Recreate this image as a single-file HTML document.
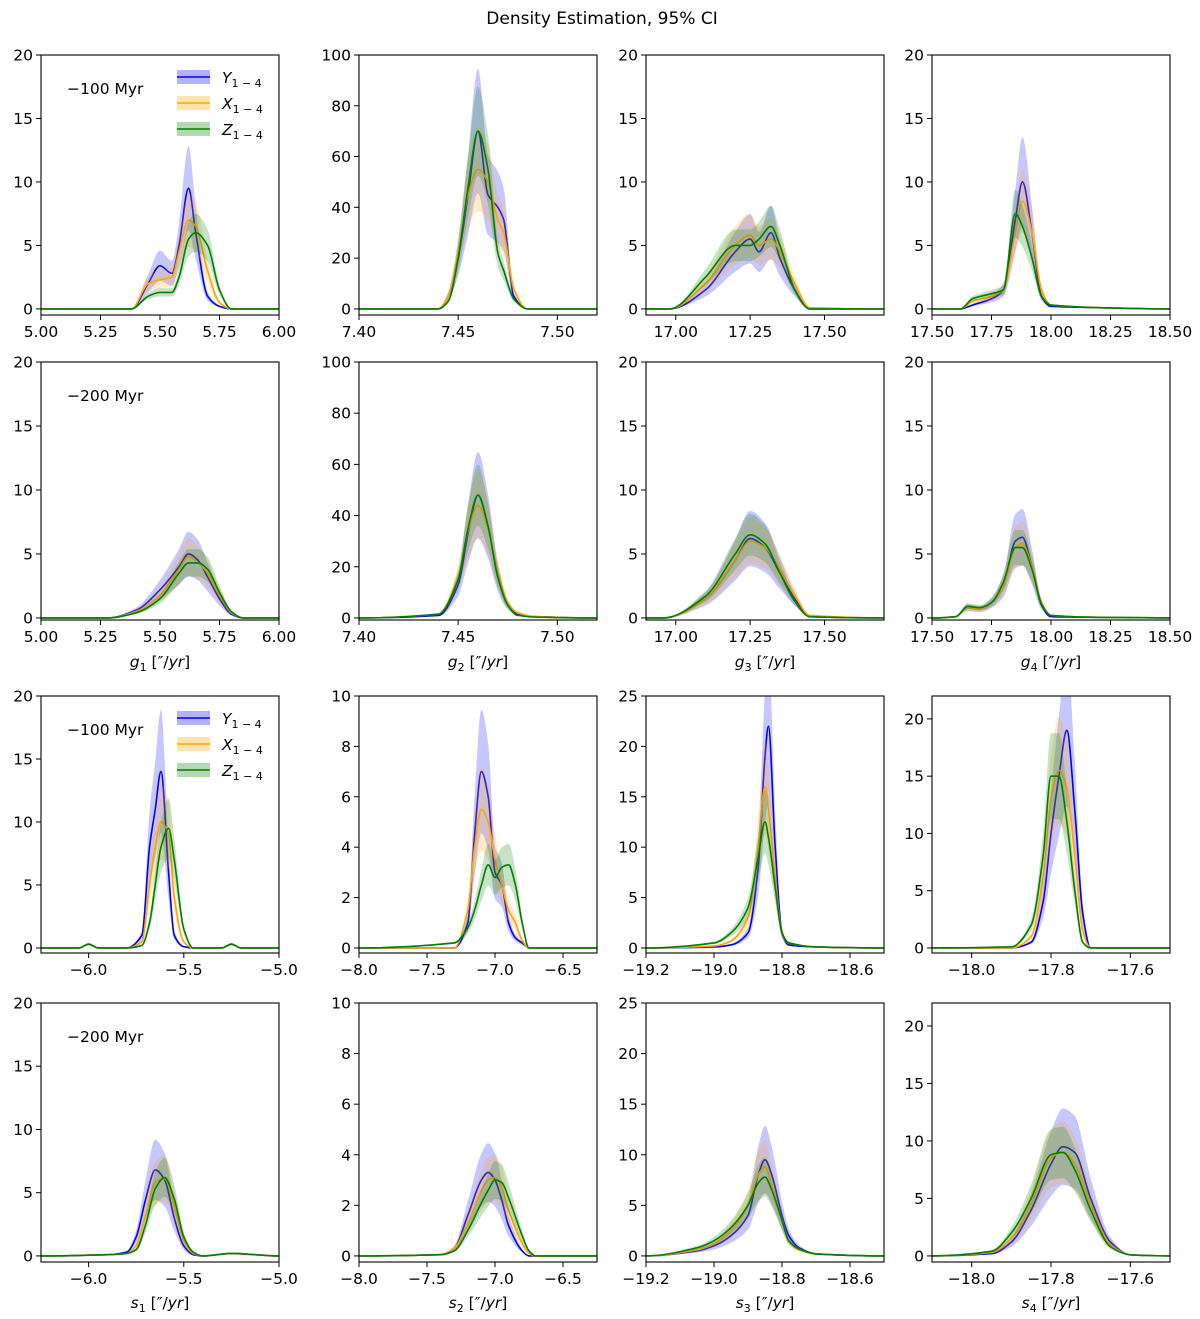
<!DOCTYPE html>
<html><head><meta charset="utf-8"><style>
body{margin:0;background:#fff;}
svg{display:block;font-family:"DejaVu Sans","Liberation Sans",sans-serif;}
</style></head><body>
<svg id="fig" width="1200" height="1319" viewBox="0 0 1200 1319" xmlns="http://www.w3.org/2000/svg">
<text x="602" y="24" font-size="17" text-anchor="middle">Density Estimation, 95% CI</text>
</svg>
<script>
// ---- data (density values) ----
// Row 1: g, -100 Myr
const g1a_x=[5.0,5.38,5.45,5.50,5.55,5.58,5.62,5.65,5.70,5.75,5.80,6.0];
const g1a_Y=[0,0,2.0,3.4,2.8,5,9.5,6,1,0.2,0,0];
const g1a_X=[0,0,2.0,2.3,2.5,4.5,7,6.5,3,0.5,0,0];
const g1a_Z=[0,0,1.0,1.3,1.3,2.5,5.5,6,5,1.5,0,0];
const g2a_x=[7.40,7.44,7.445,7.45,7.455,7.46,7.465,7.47,7.473,7.478,7.485,7.52];
const g2a_Y=[0,0,5,20,45,70,45,40,35,5,0,0];
const g2a_X=[0,0,5,22,45,55,50,35,30,8,0,0];
const g2a_Z=[0,0,3,20,48,70,55,22,15,4,0,0];
const g3a_x=[16.9,16.98,17.1,17.2,17.25,17.28,17.32,17.35,17.4,17.45,17.7];
const g3a_Y=[0,0,1.5,4.5,5.5,4.5,6.0,4,1.5,0,0];
const g3a_X=[0,0,2,5,5.8,5,5.5,4.5,2,0.1,0];
const g3a_Z=[0,0,2.5,5,5,5.5,6.5,5,1.5,0,0];
const g4a_x=[17.5,17.62,17.67,17.75,17.8,17.85,17.88,17.92,17.96,18.0,18.2,18.5];
const g4a_Y=[0,0,0.3,0.8,1.5,7,10,6,1,0.2,0.1,0];
const g4a_X=[0,0,0.6,1.0,1.5,6,8.5,6,1.5,0.3,0.1,0];
const g4a_Z=[0,0,0.8,1.2,1.5,7.5,6.5,4,1.0,0.3,0.1,0];
// Row 2: g, -200 Myr
const g1b_x=[5.0,5.28,5.4,5.5,5.58,5.62,5.66,5.70,5.75,5.8,5.85,6.0];
const g1b_Y=[0,0,0.6,2.2,4,5.0,4.5,3.2,1.5,0.3,0,0];
const g1b_X=[0,0,0.5,1.8,3.8,4.8,4.3,3.5,1.8,0.4,0,0];
const g1b_Z=[0,0,0.4,1.5,3.5,4.3,4.3,3.8,2,0.5,0,0];
const g2b_x=[7.40,7.44,7.45,7.455,7.46,7.465,7.47,7.475,7.48,7.49,7.52];
const g2b_Y=[0,1,13,33,48,36,16,5,1.5,0.5,0];
const g2b_X=[0,1.5,16,34,44,35,18,6,2,0.5,0];
const g2b_Z=[0,1.5,15,35,48,36,16,5,1,0.3,0];
const g3b_x=[16.9,16.96,17.1,17.2,17.25,17.3,17.35,17.4,17.45,17.7];
const g3b_Y=[0,0,1.5,4.5,6.2,5.5,3.5,1.5,0.1,0];
const g3b_X=[0,0,1.5,4.5,6,5.5,3.8,1.8,0.2,0];
const g3b_Z=[0,0,1.7,5,6.5,5.8,3.5,1.3,0.1,0];
const g4b_x=[17.5,17.6,17.65,17.7,17.75,17.8,17.85,17.88,17.92,17.96,18.0,18.2,18.5];
const g4b_Y=[0,0.1,0.8,0.7,1.2,2.5,6,6.3,4,1,0.1,0.05,0];
const g4b_X=[0,0.1,0.8,0.7,1.2,2.5,5.5,5.8,4,1.2,0.2,0.05,0];
const g4b_Z=[0,0.1,0.9,0.8,1.2,2.8,5.5,5.5,3.8,1.1,0.2,0.05,0];
// Row 3: s, -100 Myr
const s1a_x=[-6.25,-6.05,-6.0,-5.95,-5.8,-5.72,-5.68,-5.65,-5.62,-5.58,-5.55,-5.5,-5.45,-5.3,-5.25,-5.2,-5.0];
const s1a_Y=[0,0,0.3,0,0,1,8,11,14,6,1,0.1,0,0,0.3,0,0];
const s1a_X=[0,0,0.3,0,0,0.5,5,8,10,9,4,0.5,0,0,0.3,0,0];
const s1a_Z=[0,0,0.3,0,0,0.2,2,5,8,9.5,7,1.5,0,0,0.3,0,0];
const s2a_x=[-8,-7.3,-7.2,-7.15,-7.1,-7.05,-7.0,-6.95,-6.9,-6.85,-6.8,-6.75,-6.25];
const s2a_Y=[0,0,1,4.5,7,6,3,2.5,1,0.4,0.2,0,0];
const s2a_X=[0,0,1.5,4,5.5,5,3.5,2.5,1.5,1,0.3,0,0];
const s2a_Z=[0,0.2,0.8,1.5,2.5,3.3,2.8,3.2,3.3,2.5,1,0,0];
const s3a_x=[-19.2,-19.0,-18.95,-18.9,-18.87,-18.85,-18.84,-18.82,-18.8,-18.78,-18.7,-18.5];
const s3a_Y=[0,0.1,0.3,1.5,8,19,22,10,1.5,0.3,0.1,0];
const s3a_X=[0,0.2,0.7,3,10,16,14,7,1.5,0.5,0.1,0];
const s3a_Z=[0,0.5,1.5,4,9,12.5,11,6,1.5,0.5,0.1,0];
const s4a_x=[-18.1,-17.9,-17.85,-17.82,-17.8,-17.78,-17.76,-17.74,-17.72,-17.7,-17.5];
const s4a_Y=[0,0,0.5,4,10,15,19,12,3,0,0];
const s4a_X=[0,0,1,6,13,15.5,14,8,1.5,0,0];
const s4a_Z=[0,0.1,2,8,15,15,11,5,0.5,0,0];
// Row 4: s, -200 Myr
const s1b_x=[-6.25,-5.9,-5.8,-5.75,-5.7,-5.65,-5.6,-5.55,-5.5,-5.45,-5.4,-5.25,-5.0];
const s1b_Y=[0,0.1,0.3,1.5,4.5,6.8,6,3,0.8,0.1,0,0.2,0];
const s1b_X=[0,0.1,0.2,0.8,3.3,5.8,6.1,4,1.2,0.2,0,0.2,0];
const s1b_Z=[0,0.1,0.2,0.5,2.5,5.3,6.2,4.5,1.5,0.3,0,0.2,0];
const s2b_x=[-8,-7.4,-7.3,-7.2,-7.1,-7.05,-7.0,-6.95,-6.9,-6.8,-6.75,-6.7,-6.25];
const s2b_Y=[0,0.05,0.3,1.6,3.0,3.3,3.0,2.2,1.2,0.2,0,0,0];
const s2b_X=[0,0.05,0.3,1.3,2.6,3.0,3.1,2.7,1.8,0.5,0.1,0,0];
const s2b_Z=[0,0.05,0.2,1.0,2.1,2.6,3.0,2.9,2.3,0.8,0.2,0,0];
const s3b_x=[-19.2,-19.05,-19.0,-18.95,-18.9,-18.87,-18.85,-18.83,-18.8,-18.78,-18.75,-18.7,-18.5];
const s3b_Y=[0,0.5,1,2,4,8,9.5,8,4,2,0.8,0.2,0];
const s3b_X=[0,0.6,1.2,2.5,5,8,8.8,7,3.5,1.5,0.6,0.2,0];
const s3b_Z=[0,0.8,1.5,2.8,5,7.2,7.8,6.5,3.5,1.5,0.7,0.2,0];
const s4b_x=[-18.1,-17.95,-17.9,-17.85,-17.8,-17.77,-17.74,-17.7,-17.65,-17.6,-17.5];
const s4b_Y=[0,0.2,1.2,4,8,9.5,9,5,1.2,0.1,0];
const s4b_X=[0,0.3,1.5,4.5,8.5,9,8,4.5,1,0.1,0];
const s4b_Z=[0,0.4,2,5,8.8,9,7.5,4,0.8,0.1,0];

// axis tick labels
const gXTicks=[[5.00,5.25,5.50,5.75,6.00],[7.40,7.45,7.50],[17.00,17.25,17.50],[17.50,17.75,18.00,18.25,18.50]];
const sXTicks=[[-6.0,-5.5,-5.0],[-8.0,-7.5,-7.0,-6.5],[-19.2,-19.0,-18.8,-18.6],[-18.0,-17.8,-17.6]];
const gYTicks=[[0,5,10,15,20],[0,20,40,60,80,100],[0,5,10,15,20],[0,5,10,15,20]];
const sYTicks=[[0,5,10,15,20],[0,2,4,6,8,10],[0,5,10,15,20,25],[0,5,10,15,20]];
const gXLabelNames=["g","g","g","g"];
const sXLabelNames=["s","s","s","s"];
</script>
<script>
const NS="http://www.w3.org/2000/svg";
const svg=document.getElementById('fig');
const colLeft=[41,359,646,932], colW=238;
const rowTop=[55,362,696,1003], rowH=[260,258,257,259];
const zeroFrac=[0.024,0.008,0.02,0.024];
const gXlim=[[5.0,6.0],[7.40,7.52],[16.90,17.70],[17.5,18.5]];
const sXlim=[[-6.25,-5.0],[-8.0,-6.25],[-19.2,-18.5],[-18.1,-17.5]];
const gYmax=[20,100,20,20], sYmax=[20,10,25,22];
const COLORS={Y:'#0000ff',X:'#ffa500',Z:'#008000'};
const BAND={Y:0.35,X:0.3,Z:0.25};

function el(tag,attrs,parent){const e=document.createElementNS(NS,tag);for(const k in attrs)e.setAttribute(k,attrs[k]);(parent||svg).appendChild(e);return e;}
function fmt(v,dec){return (v<0?'\u2212':'')+Math.abs(v).toFixed(dec);}

function monotonePath(px,py){
  const n=px.length;if(n<2)return '';
  const d=[],m=[];
  for(let i=0;i<n-1;i++)d.push((py[i+1]-py[i])/(px[i+1]-px[i]));
  m[0]=0;m[n-1]=0;
  for(let i=1;i<n-1;i++){m[i]=(d[i-1]*d[i]<=0)?0:2/(1/d[i-1]+1/d[i]);}
  let s='M'+px[0].toFixed(2)+','+py[0].toFixed(2);
  for(let i=0;i<n-1;i++){const h=(px[i+1]-px[i])/3;
    s+=' C'+(px[i]+h).toFixed(2)+','+(py[i]+m[i]*h).toFixed(2)+' '+(px[i+1]-h).toFixed(2)+','+(py[i+1]-m[i+1]*h).toFixed(2)+' '+px[i+1].toFixed(2)+','+py[i+1].toFixed(2);}
  return s;
}

function panel(r,c,xlim,ymax,xticks,yticks,xs,series,xdec,pid){
  const L=colLeft[c],T=rowTop[r],W=colW,H=rowH[r];
  const ymin=-zeroFrac[r]*ymax;
  const sx=v=>L+(v-xlim[0])/(xlim[1]-xlim[0])*W;
  const sy=v=>T+H-(v-ymin)/(ymax-ymin)*H;
  const g=el('g',{});
  
  
  const cid='clip-'+pid;
  const cp=el('clipPath',{id:cid},g);el('rect',{x:L,y:T,width:W,height:H},cp);
  const plot=el('g',{'clip-path':'url(#'+cid+')'},g);
  ['Y','X','Z'].forEach(k=>{
    const ys=series[k];
    const px=xs.map(sx);
    const hi=monotonePath(px,ys.map(v=>sy(v*(1+BAND[k]))));
    const loPts=ys.map(v=>sy(v*(1-BAND[k])));
    const loRev=monotonePath(px.slice().reverse(),loPts.slice().reverse());
    const band=el('path',{d:hi+' L'+loRev.slice(1)+' Z',fill:COLORS[k],'fill-opacity':0.22,stroke:'none'},plot);
    
    
    const line=el('path',{d:monotonePath(px,ys.map(sy)),fill:'none',stroke:COLORS[k],'stroke-width':1.6},plot);
    
    
  });
  const fr=el('rect',{x:L,y:T,width:W,height:H,fill:'none',stroke:'#000','stroke-width':1.1},g);
  
  
  xticks.forEach(t=>{const x=sx(t);
    el('line',{x1:x,y1:T+H,x2:x,y2:T+H+5,stroke:'#000','stroke-width':1},g);
    const tx=el('text',{x:x,y:T+H+22,'font-size':15.5,'text-anchor':'middle'},g);tx.textContent=fmt(t,xdec);
    
    
  });
  yticks.forEach(t=>{const y=sy(t);
    el('line',{x1:L-5,y1:y,x2:L,y2:y,stroke:'#000','stroke-width':1},g);
    const ty=el('text',{x:L-8,y:y+5.5,'font-size':15.5,'text-anchor':'end'},g);ty.textContent=String(t);
    
    
  });
  return {L,T,W,H};
}
function legend(L,T){
  const items=[['Y','Y'],['X','X'],['Z','Z']];
  items.forEach((it,i)=>{const y=T+22+i*26;
    el('rect',{x:L+136,y:y-7,width:33,height:14,fill:COLORS[it[0]],'fill-opacity':0.3},svg);
    el('line',{x1:L+136,y1:y,x2:L+169,y2:y,stroke:COLORS[it[0]],'stroke-width':1.6},svg);
    const t=el('text',{x:L+181,y:y+6,'font-size':15.5},svg);
    
    
    const a=el('tspan',{'font-style':'italic'},t);a.textContent=it[1];
    const b=el('tspan',{'font-size':11,dy:4},t);b.textContent='1 \u2212 4';
  });
}
function label(L,T,txt){const t=el('text',{x:L+26,y:T+39,'font-size':15.5},svg);t.textContent=txt;
  
  }
function xlabel(c,y,name,idx){const t=el('text',{x:colLeft[c]+colW/2,y:y,'font-size':15.5,'text-anchor':'middle'},svg);
  
  
  const a=el('tspan',{'font-style':'italic'},t);a.textContent=name;
  const b=el('tspan',{'font-size':11,dy:4},t);b.textContent=String(idx);
  const d=el('tspan',{dy:-4},t);d.textContent=' [\u2033/';
  const e=el('tspan',{'font-style':'italic'},t);e.textContent='yr';
  const f=el('tspan',{},t);f.textContent=']';}

const gA=[[g1a_x,g1a_Y,g1a_X,g1a_Z],[g2a_x,g2a_Y,g2a_X,g2a_Z],[g3a_x,g3a_Y,g3a_X,g3a_Z],[g4a_x,g4a_Y,g4a_X,g4a_Z]];
const gB=[[g1b_x,g1b_Y,g1b_X,g1b_Z],[g2b_x,g2b_Y,g2b_X,g2b_Z],[g3b_x,g3b_Y,g3b_X,g3b_Z],[g4b_x,g4b_Y,g4b_X,g4b_Z]];
const sA=[[s1a_x,s1a_Y,s1a_X,s1a_Z],[s2a_x,s2a_Y,s2a_X,s2a_Z],[s3a_x,s3a_Y,s3a_X,s3a_Z],[s4a_x,s4a_Y,s4a_X,s4a_Z]];
const sB=[[s1b_x,s1b_Y,s1b_X,s1b_Z],[s2b_x,s2b_Y,s2b_X,s2b_Z],[s3b_x,s3b_Y,s3b_X,s3b_Z],[s4b_x,s4b_Y,s4b_X,s4b_Z]];
const gDec=[2,2,2,2], sDec=[1,1,1,1];
[[0,gA,gXlim,gYmax,gXTicks,gYTicks,gDec,'g100'],[1,gB,gXlim,gYmax,gXTicks,gYTicks,gDec,'g200'],
 [2,sA,sXlim,sYmax,sXTicks,sYTicks,sDec,'s100'],[3,sB,sXlim,sYmax,sXTicks,sYTicks,sDec,'s200']].forEach(R=>{
  const [r,D,xl,ym,xt,yt,dec,nm]=R;
  for(let c=0;c<4;c++){
    const d=D[c];
    panel(r,c,xl[c],ym[c],xt[c],yt[c],d[0],{Y:d[1],X:d[2],Z:d[3]},dec[c],nm+'-'+(c+1));
  }
});
legend(colLeft[0],rowTop[0]); legend(colLeft[0],rowTop[2]);
label(colLeft[0],rowTop[0],'\u2212100 Myr');
label(colLeft[0],rowTop[1],'\u2212200 Myr');
label(colLeft[0],rowTop[2],'\u2212100 Myr');
label(colLeft[0],rowTop[3],'\u2212200 Myr');
for(let c=0;c<4;c++){xlabel(c,667,gXLabelNames[c],c+1);xlabel(c,1308,sXLabelNames[c],c+1);}
</script>
</body></html>
